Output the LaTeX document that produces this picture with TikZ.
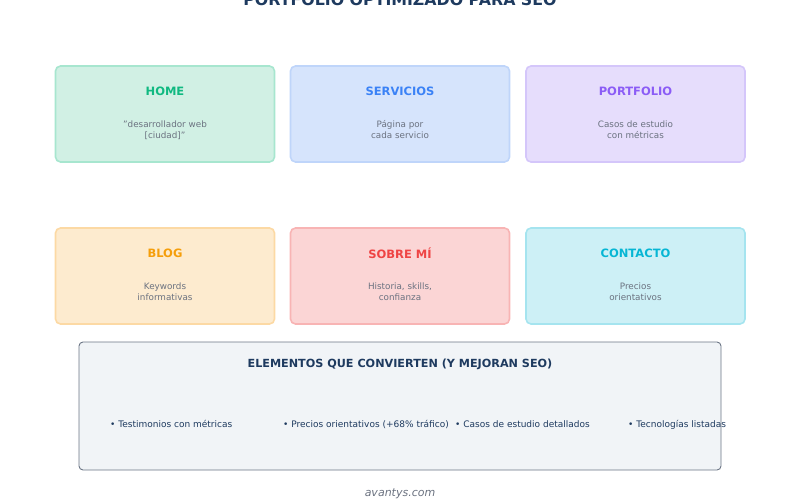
\documentclass[tikz,border=0pt]{standalone}
\usepackage{fontspec}
\setmainfont{DejaVu Sans}
\definecolor{navy}{HTML}{1E3A5F}
\definecolor{txtgray}{HTML}{6B7280}
\definecolor{gfill}{HTML}{D1F0E4}\definecolor{gline}{HTML}{A7E6CF}\definecolor{gtitle}{HTML}{10B981}
\definecolor{bfill}{HTML}{D6E4FC}\definecolor{bline}{HTML}{BFD5FA}\definecolor{btitle}{HTML}{3B82F6}
\definecolor{pfill}{HTML}{E6DDFC}\definecolor{pline}{HTML}{D4C6FA}\definecolor{ptitle}{HTML}{8B5CF6}
\definecolor{ofill}{HTML}{FDEBCF}\definecolor{oline}{HTML}{FCD9A4}\definecolor{otitle}{HTML}{F59E0B}
\definecolor{rfill}{HTML}{FBD5D5}\definecolor{rline}{HTML}{F8B4B4}\definecolor{rtitle}{HTML}{EF4444}
\definecolor{cfill}{HTML}{CDF0F6}\definecolor{cline}{HTML}{A5E4EF}\definecolor{ctitle}{HTML}{06B6D4}
\definecolor{elfill}{HTML}{F1F4F7}\definecolor{elline}{HTML}{6B7585}
\begin{document}
\begin{tikzpicture}[x=1pt,y=-1pt,
  card/.style={draw, line width=1.6pt, rounded corners=5pt, minimum width=219pt, minimum height=96pt, inner sep=0pt},
  cardtitle/.style={font=\fontsize{11.5}{13}\selectfont\bfseries},
  carddesc/.style={font=\fontsize{8.8}{11}\selectfont, text=txtgray, align=center},
  bullet/.style={font=\fontsize{9}{11}\selectfont, text=navy, anchor=base west, inner sep=0pt}]
\useasboundingbox (0,0) rectangle (800,500);
\node[font=\fontsize{15.8}{18}\selectfont\bfseries, text=navy, anchor=base] (title) at (400,6) {PORTFOLIO OPTIMIZADO PARA SEO};
% row 1
\node[card, fill=gfill, draw=gline] (home) at (165,114) {};
\node[cardtitle, text=gtitle] (homet) at (165,91) {HOME};
\node[carddesc] (homed) at (165,130) {"desarrollador web\\{}[ciudad]"};
\node[card, fill=bfill, draw=bline] (serv) at (400,114) {};
\node[cardtitle, text=btitle] (servt) at (400,91) {SERVICIOS};
\node[carddesc] (servd) at (400,130) {Página por\\cada servicio};
\node[card, fill=pfill, draw=pline] (port) at (635.5,114) {};
\node[cardtitle, text=ptitle] (portt) at (635.5,91) {PORTFOLIO};
\node[carddesc] (portd) at (635.5,130) {Casos de estudio\\con métricas};
% row 2
\node[card, fill=ofill, draw=oline] (blog) at (165,276) {};
\node[cardtitle, text=otitle] (blogt) at (165,253) {BLOG};
\node[carddesc] (blogd) at (165,292) {Keywords\\informativas};
\node[card, fill=rfill, draw=rline] (sobre) at (400,276) {};
\node[cardtitle, text=rtitle] (sobret) at (400,253) {SOBRE MÍ};
\node[carddesc] (sobred) at (400,292) {Historia, skills,\\confianza};
\node[card, fill=cfill, draw=cline] (cont) at (635.5,276) {};
\node[cardtitle, text=ctitle] (contt) at (635.5,253) {CONTACTO};
\node[carddesc] (contd) at (635.5,292) {Precios\\orientativos};
% bottom box
\node[draw=elline, fill=elfill, line width=0.9pt, rounded corners=4pt, minimum width=642pt, minimum height=128pt, inner sep=0pt] (elem) at (400,406) {};
\node[font=\fontsize{11.2}{13}\selectfont\bfseries, text=navy] (elemt) at (400,364) {ELEMENTOS QUE CONVIERTEN (Y MEJORAN SEO)};
\node[bullet] (b1) at (110,427.5) {• Testimonios con métricas};
\node[bullet] (b2) at (283,427.5) {• Precios orientativos (+68\% tráfico)};
\node[bullet] (b3) at (455,427.5) {• Casos de estudio detallados};
\node[bullet] (b4) at (628,427.5) {• Tecnologías listadas};
\node[font=\fontsize{11}{13}\selectfont\itshape, text=txtgray] (foot) at (400,494) {avantys.com};
\end{tikzpicture}
\end{document}
